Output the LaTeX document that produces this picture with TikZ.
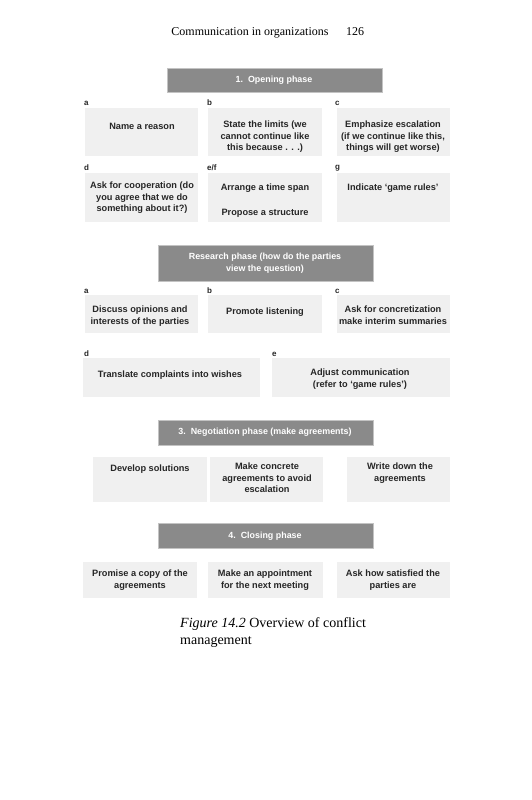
\documentclass[tikz,border=0pt]{standalone}
\usepackage{fontspec}
\setmainfont{Liberation Serif}
\newfontfamily\boxfont{Liberation Sans}
\definecolor{boxgray}{HTML}{F0F0F0}
\definecolor{bargray}{HTML}{8A8A8A}
\begin{document}
\begin{tikzpicture}[x=1pt,y=-1pt,
  bx/.style={fill=boxgray,draw=none},
  bar/.style={fill=bargray,draw=boxgray!60!gray,line width=0.6pt},
  bt/.style={font=\boxfont\bfseries\fontsize{9.2}{11.5}\selectfont,align=center,inner sep=0pt,text=black!85},
  wt/.style={font=\boxfont\bfseries\fontsize{8.9}{12.5}\selectfont,align=center,inner sep=0pt,text=white},
  lab/.style={font=\boxfont\bfseries\fontsize{8}{9}\selectfont,inner sep=0pt,anchor=west,text=black!85}]
\useasboundingbox (0,0) rectangle (531,800);
\fill[white] (0,0) rectangle (531,800);
% header
\node[font=\fontsize{12}{14}\selectfont,anchor=base] (hd) at (250,36) {Communication in organizations};
\node[font=\fontsize{12}{14}\selectfont,anchor=base] (pg) at (355,36) {126};
% phase 1
\draw[bar] (167,68) rectangle (382,92);
\node[wt] (p1) at (274,80) {1.\ \ Opening phase};
\node[lab] (la1) at (84,103) {a};
\node[lab] (lb1) at (207,103) {b};
\node[lab] (lc1) at (335,103) {c};
\fill[bx] (85,108) rectangle (198,156);
\fill[bx] (208,108) rectangle (322,156);
\fill[bx] (337,108) rectangle (450,156);
\node[bt,anchor=base] (t1a) at (142,129) {Name a reason};
\node[bt,anchor=north] (t1b) at (265,121) {State the limits (we\\cannot continue like\\this because . . .)};
\node[bt,anchor=north] (t1c) at (393,121) {Emphasize escalation\\(if we continue like this,\\things will get worse)};
\node[lab] (ld1) at (84,168) {d};
\node[lab] (le1) at (207,168) {e/f};
\node[lab] (lg1) at (335,168) {g};
\fill[bx] (85,173) rectangle (198,222);
\fill[bx] (208,173) rectangle (322,222);
\fill[bx] (337,173) rectangle (450,222);
\node[bt,anchor=north] (t1d) at (142,182) {Ask for cooperation (do\\you agree that we do\\something about it?)};
\node[bt,anchor=base] (t1e) at (265,190) {Arrange a time span};
\node[bt,anchor=base] (t1f) at (265,215) {Propose a structure};
\node[bt,anchor=base] (t1g) at (393,190) {Indicate ‘game rules’};
% phase 2
\draw[bar] (158,245) rectangle (373,281);
\node[wt] (p2) at (265,263) {Research phase (how do the parties\\view the question)};
\node[lab] (la2) at (84,291) {a};
\node[lab] (lb2) at (207,291) {b};
\node[lab] (lc2) at (335,291) {c};
\fill[bx] (85,295) rectangle (198,333);
\fill[bx] (208,295) rectangle (322,333);
\fill[bx] (337,295) rectangle (450,333);
\node[bt,anchor=north] (t2a) at (140,306) {Discuss opinions and\\interests of the parties};
\node[bt,anchor=base] (t2b) at (265,314) {Promote listening};
\node[bt,anchor=north] (t2c) at (393,306) {Ask for concretization\\make interim summaries};
\node[lab] (ld2) at (84,354) {d};
\node[lab] (le2) at (272,354) {e};
\fill[bx] (83,358) rectangle (260,397);
\fill[bx] (272,358) rectangle (450,397);
\node[bt,anchor=base] (t2d) at (170,377) {Translate complaints into wishes};
\node[bt,anchor=north] (t2e) at (360,369) {Adjust communication\\(refer to ‘game rules’)};
% phase 3
\draw[bar] (158,420) rectangle (373,445);
\node[wt] (p3) at (265,432) {3.\ \ Negotiation phase (make agreements)};
\fill[bx] (93,457) rectangle (207,502);
\fill[bx] (210,457) rectangle (323,502);
\fill[bx] (347,457) rectangle (450,502);
\node[bt,anchor=base] (t3a) at (150,471) {Develop solutions};
\node[bt,anchor=north] (t3b) at (267,463) {Make concrete\\agreements to avoid\\escalation};
\node[bt,anchor=north] (t3c) at (400,463) {Write down the\\agreements};
% phase 4
\draw[bar] (158,523) rectangle (373,548);
\node[wt] (p4) at (265,536) {4.\ \ Closing phase};
\fill[bx] (83,562) rectangle (197,598);
\fill[bx] (208,562) rectangle (323,598);
\fill[bx] (337,562) rectangle (450,598);
\node[bt,anchor=north] (t4a) at (140,570) {Promise a copy of the\\agreements};
\node[bt,anchor=north] (t4b) at (265,570) {Make an appointment\\for the next meeting};
\node[bt,anchor=north] (t4c) at (393,570) {Ask how satisfied the\\parties are};
% caption
\node[font=\fontsize{14}{17}\selectfont,anchor=base west,align=left,inner sep=0pt] (cap) at (180,627) {\textit{Figure 14.2} Overview of conflict};
\node[font=\fontsize{14}{17}\selectfont,anchor=base west,inner sep=0pt] (cap2) at (180,644) {management};
\end{tikzpicture}
\end{document}
